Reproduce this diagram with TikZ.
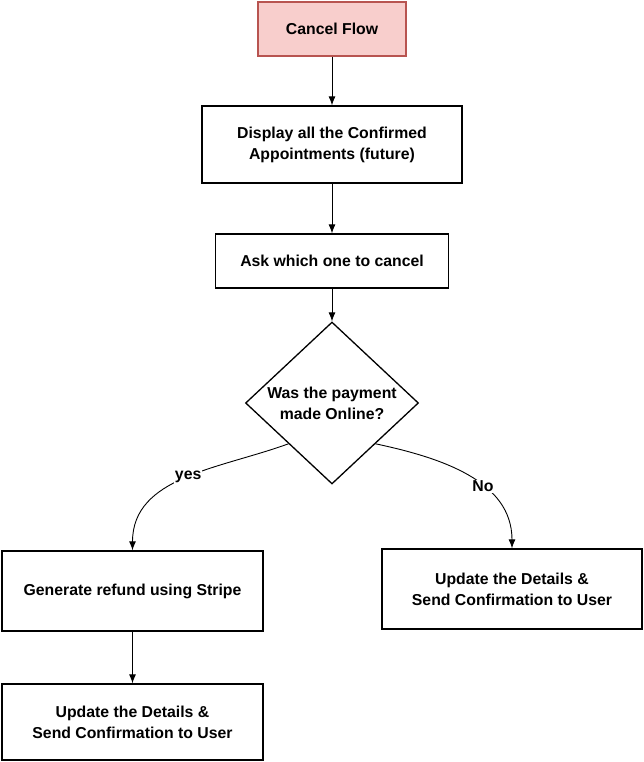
\documentclass[tikz,border=0pt]{standalone}
\usepackage{fontspec}
\setmainfont{Liberation Sans}
\usetikzlibrary{arrows.meta,shapes.geometric,positioning}
\definecolor{startfill}{HTML}{F8CECC}
\definecolor{startdraw}{HTML}{B85450}
\tikzset{
  basic/.style    = {draw, line width=1.3pt, align=center, inner sep=0pt,
                     font=\fontsize{15.8}{21}\selectfont\bfseries},
  start/.style    = {basic, draw=startdraw, fill=startfill,
                     minimum width=148pt, minimum height=54pt},
  process/.style  = {basic, fill=white},
  decision/.style = {basic, diamond, minimum width=173pt, minimum height=160pt},
  answer/.style   = {fill=white, inner sep=1pt,
                     font=\fontsize{15.8}{21}\selectfont\bfseries}
}

\begin{document}
\begin{tikzpicture}[x=1pt, y=1pt,
  >={Latex[length=9pt,width=7pt]}]

\useasboundingbox (0,0) rectangle (643,762);

% inicio
\node[start] (cf) at (332,733) {Cancel Flow};

% pasos principales
\node[process, below of=cf, node distance=115.5pt,
      minimum width=260pt, minimum height=77pt] (c1)
  {Display all the Confirmed\\Appointments (future)};
\node[process, below of=c1, node distance=116.5pt,
      minimum width=233pt, minimum height=54pt] (c2)
  {Ask which one to cancel};
\node[decision, below of=c2, node distance=142pt] (d1)
  {Was the payment\\made Online?};

% ramas
\node[process, below of=d1, node distance=188pt, xshift=-199.5pt,
      minimum width=261pt, minimum height=80pt] (y1)
  {Generate refund using Stripe};
\node[process, below of=y1, node distance=131pt,
      minimum width=261pt, minimum height=76pt] (y2)
  {Update the Details \&\\Send Confirmation to User};
\node[process, below of=d1, node distance=186pt, xshift=180pt,
      minimum width=260pt, minimum height=80pt] (n1)
  {Update the Details \&\\Send Confirmation to User};

\begin{scope}[line width=0.9pt]
\draw[->] (cf) -- (c1);
\draw[->] (c1) -- (c2);
\draw[->] (c2) -- (d1);
\draw[->] (y1) -- (y2);

\draw[->] (d1.south west) to[out=200, in=90]
  node[answer, pos=0.48] (yes) {yes} (y1.north);
\draw[->] (d1.south east) to[out=-12, in=90]
  node[answer, pos=0.6] (no) {No} (n1.north);
\end{scope}

\end{tikzpicture}
\end{document}
